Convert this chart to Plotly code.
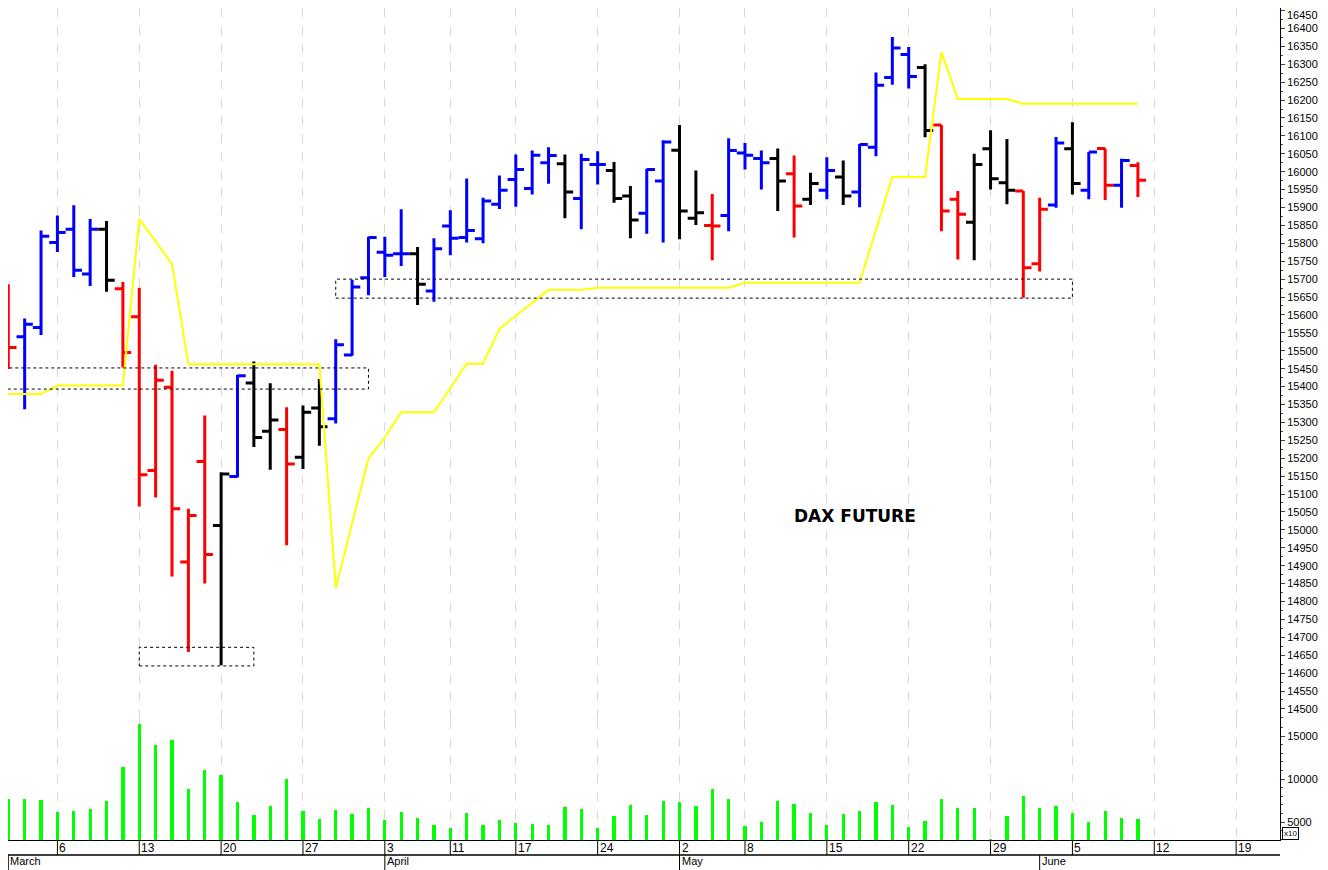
import plotly.graph_objects as go

# trading-day index: 0 = 1 March 2023, 69 = 9 June 2023
bar_idx = list(range(-1, 70))
opens = [15583, 15526, 15539, 15565, 15802, 15839, 15714, 15839, 15673, 15595, 15166,
         15398, 14910, 15191, 15012, 15149, 15410, 15275, 15280, 15203, 15340, 15310,
         15488, 15704, 15775, 15771, 15771, 15667, 15848, 15816, 15813, 15909, 15978,
         15953, 16025, 16022, 15925, 16020, 16003, 15932, 15884, 15974, 16060, 15870,
         15850, 15878, 16052, 16037, 16037, 15994, 15923, 15948, 15985, 15943, 16068,
         16263, 16327, 16291, 16130, 15923, 15859, 16064, 15969, 15946, 15743, 15907,
         16064, 15948, 16065, 15962, 16017]
highs = [15639, 15686, 15590, 15836, 15878, 15906, 15868, 15862, 15692, 15676, 15461,
         15444, 15059, 15319, 15161, 15432, 15470, 15409, 15342, 15347, 15421, 15532,
         15698, 15818, 15818, 15895, 15790, 15814, 15892, 15981, 15927, 15989, 16048,
         16059, 16068, 16048, 16050, 16057, 16027, 15960, 16008, 16088, 16130, 16003,
         15938, 16093, 16080, 16059, 16065, 16045, 15997, 16040, 16031, 16077, 16277,
         16376, 16348, 16300, 16130, 15946, 16050, 16116, 16091, 15946, 15927, 16097,
         16138, 16055, 16065, 16036, 16026]
lows = [15458, 15449, 15337, 15544, 15776, 15706, 15681, 15665, 15453, 15065, 15090,
        14870, 14659, 14850, 14622, 15147, 15231, 15168, 14957, 15170, 15235, 15297,
        15486, 15655, 15706, 15737, 15628, 15637, 15767, 15802, 15800, 15896, 15902,
        15936, 15966, 15870, 15839, 15964, 15913, 15814, 15827, 15802, 15811, 15851,
        15753, 15834, 16006, 15950, 15890, 15816, 15907, 15923, 15907, 15901, 16043,
        16243, 16232, 16096, 15834, 15755, 15753, 15950, 15909, 15648, 15721, 15899,
        15936, 15923, 15921, 15899, 15929]
closes = [15556, 15509, 15574, 15820, 15830, 15725, 15839, 15697, 15495, 15154, 15418,
          15059, 15040, 14931, 15156, 15430, 15258, 15307, 15184, 15328, 15288, 15517,
          15678, 15816, 15767, 15771, 15686, 15785, 15814, 15836, 15918, 15948, 16006,
          16046, 16045, 15943, 16034, 16020, 15925, 15865, 16006, 16083, 15890, 15885,
          15848, 16059, 16046, 16025, 15974, 15904, 15967, 16003, 15932, 16076, 16241,
          16345, 16266, 16115, 15890, 15881, 16020, 15980, 15948, 15732, 15895, 16080,
          15967, 16055, 15962, 16031, 15976]
bar_colors = ["r", "r", "b", "b", "b", "b", "b", "k", "r", "r", "r", "r", "r", "r", "k",
              "b", "k", "k", "r", "k", "k", "b", "b", "b", "b", "b", "k", "b", "b", "b",
              "b", "b", "b", "b", "b", "k", "b", "b", "k", "k", "b", "b", "k", "k", "r",
              "b", "b", "b", "k", "r", "k", "b", "k", "b", "b", "b", "b", "k", "r", "r",
              "k", "k", "k", "r", "r", "b", "k", "b", "r", "b", "r"]

vol_idx = list(range(0, 70))
volumes = [7740, 7740, 7550, 6180, 6290, 6530, 7470, 11390, 16450, 13900, 14570, 8800,
           11040, 10450, 7310, 5820, 6880, 10060, 6330, 5390, 6410, 5980, 6690, 5270,
           6180, 5510, 4690, 4370, 6060, 4690, 5270, 4920, 4800, 4690, 6760, 6570, 4370,
           5710, 7000, 5820, 7470, 7310, 6840, 8800, 7740, 4570, 5000, 7470, 7120, 6060,
           4690, 5940, 6290, 7310, 7000, 4450, 5120, 7740, 6650, 6650, 3000, 5710, 8060,
           6610, 6880, 6060, 5040, 6290, 5470, 5390]

# yellow stop line vertices
stop_idx = [-1, 2, 3, 7, 8, 10, 11, 19, 20, 22, 23, 24, 26, 28, 29, 30, 33, 35, 36,
            44, 45, 52, 54, 56, 57, 58, 61, 62, 69]
stop_val = [15379, 15379, 15403, 15403, 15868, 15742, 15462, 15462, 14837, 15199, 15258,
            15328, 15328, 15464, 15464, 15561, 15670, 15670, 15676, 15676, 15690, 15690,
            15985, 15985, 16334, 16203, 16203, 16190, 16190]

# dashed zones: (x0, x1, low, high)
zones = [(-1.5, 22, 15393, 15452), (20, 65, 15647, 15700), (8, 15, 14620, 14672)]

day_ticks = [3, 8, 13, 18, 23, 27, 31, 36, 41, 45, 50, 55, 60, 65, 70, 75]
day_labels = ["6", "13", "20", "27", "3", "11", "17", "24", "2", "8", "15", "22", "29",
              "5", "12", "19"]
month_ticks = [0, 23, 41, 63]
month_labels = ["March", "April", "May", "June"]

colour_map = {"r": "#ff0000", "b": "#0000ff", "k": "#000000"}

fig = go.Figure()

for key, col in colour_map.items():
    sel = [i for i, c in enumerate(bar_colors) if c == key]
    fig.add_trace(go.Ohlc(
        x=[bar_idx[i] for i in sel], open=[opens[i] for i in sel],
        high=[highs[i] for i in sel], low=[lows[i] for i in sel],
        close=[closes[i] for i in sel], tickwidth=0.5,
        increasing=dict(line=dict(color=col, width=3)),
        decreasing=dict(line=dict(color=col, width=3)),
        hoverinfo="skip", showlegend=False, yaxis="y"))

fig.add_trace(go.Scatter(x=stop_idx, y=stop_val, mode="lines",
                         line=dict(color="#ffff00", width=2),
                         hoverinfo="skip", showlegend=False, yaxis="y"))

fig.add_trace(go.Bar(x=vol_idx, y=volumes, width=0.2, marker_color="#00ff00",
                     marker_line_width=0, base=0, hoverinfo="skip",
                     showlegend=False, yaxis="y2"))

for x0, x1, lo, hi in zones:
    fig.add_shape(type="rect", xref="x", yref="y", x0=x0, x1=x1, y0=lo, y1=hi,
                  line=dict(color="black", width=1, dash="dot"))

# date strip below the plot
row1 = -0.018
row2 = -0.037
fig.add_shape(type="line", xref="paper", yref="paper", x0=0, x1=1, y0=row1, y1=row1,
              line=dict(color="black", width=1.5))
for t, lab in zip(day_ticks, day_labels):
    fig.add_shape(type="line", xref="x", yref="paper", x0=t, x1=t, y0=0, y1=row1,
                  line=dict(color="black", width=1))
    fig.add_annotation(x=t, y=0, xref="x", yref="paper", text=lab, showarrow=False,
                       xanchor="left", yanchor="top", xshift=0, yshift=1,
                       font=dict(size=12, color="black"))
for t, lab in zip(month_ticks, month_labels):
    fig.add_shape(type="line", xref="x", yref="paper", x0=t, x1=t, y0=row1, y1=row2,
                  line=dict(color="black", width=1))
    fig.add_annotation(x=t, y=row1, xref="x", yref="paper", text=lab, showarrow=False,
                       xanchor="left", yanchor="top", xshift=0, yshift=2,
                       font=dict(size=11, color="black"))

fig.add_annotation(x=51.7, y=15040, xref="x", yref="y", text="<b>DAX FUTURE</b>",
                   showarrow=False, font=dict(size=17, color="black", family="DejaVu Sans"))
fig.add_annotation(x=1, y=0, xref="paper", yref="paper", text="x10", showarrow=False,
                   xanchor="left", yanchor="bottom", xshift=2, borderwidth=1,
                   bordercolor="black", borderpad=1, font=dict(size=8, color="black"))
# top price label sits on the plot edge, where plotly drops it
fig.add_annotation(x=1, y=1, xref="paper", yref="paper", text="16450", showarrow=False,
                   xanchor="left", yanchor="top", xshift=5, yshift=1,
                   font=dict(size=11, color="black"))

# the page puts the figure 8px in from the top-left corner
fig.update_layout(
    width=1320, height=862,
    margin=dict(l=0, r=48, t=0, b=30),
    paper_bgcolor="white", plot_bgcolor="white",
    font=dict(family="Liberation Sans, Arial", color="black"),
    bargap=0,
    xaxis=dict(range=[-0.018, 77.68], anchor="y2", tickvals=day_ticks,
               showticklabels=False, ticks="", showgrid=True, gridcolor="#d8d8d8",
               griddash="dash", gridwidth=1, zeroline=False, showline=True,
               linecolor="black", linewidth=1, rangeslider=dict(visible=False)),
    yaxis=dict(domain=[0.1442, 1], range=[14469, 16457], side="right", anchor="x",
               dtick=50, tick0=0, tickformat="d", showgrid=False, zeroline=False,
               ticks="outside", ticklen=4, tickfont=dict(size=11), showline=True,
               linecolor="black",
               minor=dict(ticks="outside", ticklen=2, dtick=25, showgrid=False)),
    yaxis2=dict(domain=[0, 0.1442], range=[2922, 16860], side="right", anchor="x",
                tickvals=[5000, 10000, 15000], tickformat="d", showgrid=False,
                zeroline=False, ticks="outside", ticklen=4, tickfont=dict(size=11),
                showline=True, linecolor="black",
                minor=dict(ticks="outside", ticklen=2, dtick=1000, showgrid=False)),
)

fig.write_html("out.html")
